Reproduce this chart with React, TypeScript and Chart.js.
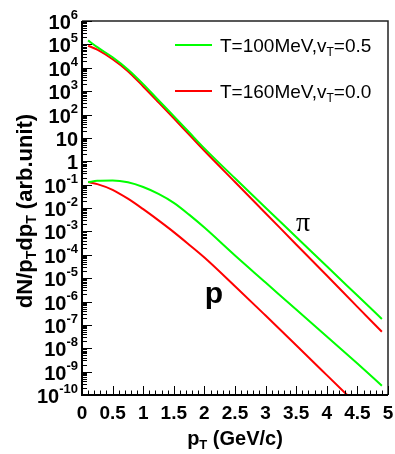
import React, { useEffect, useRef } from "react";
import { Chart, registerables } from "chart.js";

Chart.register(...registerables);

const pT = [0.1, 0.25, 0.5, 0.75, 1.0, 1.25, 1.5, 1.75, 2.0, 2.5, 3.0, 3.5, 4.0, 4.5, 4.9];

// pions
const pionT100 = [1.48e5, 7.6e4, 2.8e4, 8.5e3, 2.0e3, 407, 85, 17.4, 3.55, 0.186, 1.02e-2, 5.8e-4, 3.2e-5, 1.8e-6, 1.8e-7];
const pionT160 = [8.7e4, 5.9e4, 2.3e4, 7.1e3, 1.58e3, 331, 68, 13.8, 2.8, 0.129, 6.0e-3, 2.75e-4, 1.29e-5, 5.9e-7, 5.1e-8];

// protons
const protonT100 = [0.128, 0.145, 0.151, 0.126, 0.079, 0.040, 0.0166, 5.2e-3, 1.45e-3, 9.3e-5, 6.5e-6, 4.5e-7, 3.2e-8, 2.2e-9, 2.5e-10];
const protonT160 = [0.128, 0.105, 0.060, 0.025, 8.9e-3, 2.95e-3, 9.3e-4, 2.7e-4, 7.6e-5, 4.5e-6, 2.5e-7, 1.35e-8, 7.1e-10, 3.7e-11];

const xTickLabels = ["0", "0.5", "1", "1.5", "2", "2.5", "3", "3.5", "4", "4.5", "5"];
const yDecades = [-10, -9, -8, -7, -6, -5, -4, -3, -2, -1, 0, 1, 2, 3, 4, 5, 6];

const GREEN = "#00ff00";
const RED = "#ff0000";
const SANS = "'Liberation Sans', Arial, Helvetica, sans-serif";

const toPts = (ys: number[]) => ys.map((y, i) => ({ x: pT[i], y }));

const decorPlugin = {
  id: "decor",
  afterDraw(chart: any) {
    const ctx = chart.ctx as CanvasRenderingContext2D;
    const ca = chart.chartArea;
    const xs = chart.scales.x;
    const ys = chart.scales.y;
    ctx.save();

    // frame
    ctx.strokeStyle = "#222";
    ctx.lineWidth = 1.5;
    ctx.beginPath();
    ctx.moveTo(ca.left, ca.top);
    ctx.lineTo(ca.right, ca.top);
    ctx.lineTo(ca.right, ca.bottom);
    ctx.stroke();
    ctx.strokeStyle = "#000";
    ctx.lineWidth = 2;
    ctx.beginPath();
    ctx.moveTo(ca.left, ca.top);
    ctx.lineTo(ca.left, ca.bottom);
    ctx.lineTo(ca.right, ca.bottom);
    ctx.stroke();

    // y ticks (inward)
    ctx.lineWidth = 1;
    ctx.strokeStyle = "#000";
    ctx.beginPath();
    for (const n of yDecades) {
      const y = Math.round(ys.getPixelForValue(Math.pow(10, n))) + 0.5;
      ctx.moveTo(ca.left, y);
      ctx.lineTo(ca.left + 10, y);
      if (n < 6) {
        for (let k = 2; k <= 9; k++) {
          const yy = Math.round(ys.getPixelForValue(k * Math.pow(10, n))) + 0.5;
          ctx.moveTo(ca.left, yy);
          ctx.lineTo(ca.left + 5, yy);
        }
      }
    }
    // x ticks (inward)
    for (let i = 0; i <= 50; i++) {
      const v = i / 10;
      const x = Math.round(xs.getPixelForValue(v)) + 0.5;
      const len = i % 5 === 0 ? 9 : 4.5;
      ctx.moveTo(x, ca.bottom);
      ctx.lineTo(x, ca.bottom - len);
    }
    ctx.stroke();

    ctx.fillStyle = "#000";
    // x tick labels
    ctx.font = `bold 19px ${SANS}`;
    ctx.textAlign = "center";
    ctx.textBaseline = "alphabetic";
    xTickLabels.forEach((lab, i) => {
      ctx.fillText(lab, xs.getPixelForValue(i * 0.5), ca.bottom + 24);
    });

    // y tick labels
    const labRight = ca.left - 4;
    for (const n of yDecades) {
      const y = ys.getPixelForValue(Math.pow(10, n));
      ctx.textAlign = "left";
      if (n === 0 || n === 1) {
        ctx.font = `bold 20px ${SANS}`;
        const t = n === 0 ? "1" : "10";
        const w = ctx.measureText(t).width;
        ctx.fillText(t, labRight - w, y + 8);
      } else {
        ctx.font = `bold 13px ${SANS}`;
        const e = String(n);
        const ew = ctx.measureText(e).width;
        ctx.fillText(e, labRight - ew, y - 2);
        ctx.font = `bold 20px ${SANS}`;
        const bw = ctx.measureText("10").width;
        ctx.fillText("10", labRight - ew - bw, y + 8);
      }
    }

    // rich text helper: parts [text, isSub]
    const drawRich = (parts: [string, boolean][], x: number, y: number, big: number, small: number, weight: string, align: string) => {
      let total = 0;
      const widths = parts.map(([t, sub]) => {
        ctx.font = `${weight} ${sub ? small : big}px ${SANS}`;
        const w = ctx.measureText(t).width;
        total += w;
        return w;
      });
      let cx = align === "center" ? x - total / 2 : x;
      ctx.textAlign = "left";
      parts.forEach(([t, sub], i) => {
        ctx.font = `${weight} ${sub ? small : big}px ${SANS}`;
        ctx.fillText(t, cx, sub ? y + 4 : y);
        cx += widths[i];
      });
    };

    // x title
    drawRich([["p", false], ["T", true], [" (GeV/c)", false]], (ca.left + ca.right) / 2, 445, 20, 13, "bold", "center");

    // y title (rotated)
    ctx.save();
    ctx.translate(32, 211);
    ctx.rotate(-Math.PI / 2);
    drawRich([["dN/p", false], ["T", true], ["dp", false], ["T", true], [" (arb.unit)", false]], 0, 0, 22, 14, "bold", "center");
    ctx.restore();

    // legend
    const legend: [string, string, string][] = [
      [GREEN, "T=100MeV,v", "=0.5"],
      [RED, "T=160MeV,v", "=0.0"],
    ];
    legend.forEach(([col, a, b], i) => {
      const ly = 45 + i * 46;
      ctx.strokeStyle = col;
      ctx.lineWidth = 2;
      ctx.beginPath();
      ctx.moveTo(175, ly);
      ctx.lineTo(212, ly);
      ctx.stroke();
      ctx.fillStyle = "#000";
      drawRich([[a, false], ["T", true], [b, false]], 220, ly + 7, 19, 12, "normal", "left");
    });

    // particle labels
    ctx.fillStyle = "#000";
    ctx.textAlign = "center";
    ctx.font = `28px 'Liberation Serif', 'DejaVu Serif', serif`;
    ctx.fillText("π", 303, 231);
    ctx.font = `bold 30px ${SANS}`;
    ctx.fillText("p", 214, 303);

    ctx.restore();
  },
};

export default function App() {
  const ref = useRef<HTMLCanvasElement | null>(null);
  useEffect(() => {
    if (!ref.current) return;
    const ds = (data: number[], color: string) => ({
      data: toPts(data),
      borderColor: color,
      backgroundColor: color,
      borderWidth: 2,
      pointRadius: 0,
      fill: false,
      cubicInterpolationMode: "monotone" as const,
    });
    const chart = new Chart(ref.current, {
      type: "line",
      data: {
        datasets: [
          ds(pionT100, GREEN),
          ds(pionT160, RED),
          ds(protonT100, GREEN),
          ds(protonT160, RED),
        ],
      },
      options: {
        responsive: false,
        animation: false,
        layout: { padding: { top: 21, right: 7, left: 0, bottom: 0 } },
        plugins: { legend: { display: false }, tooltip: { enabled: false } },
        scales: {
          x: {
            type: "linear",
            min: 0,
            max: 5,
            ticks: { display: false },
            grid: { display: false },
            border: { display: false },
            afterFit: (s: any) => {
              s.height = 59;
            },
          },
          y: {
            type: "logarithmic",
            min: 1e-10,
            max: 1e6,
            ticks: { display: false },
            grid: { display: false },
            border: { display: false },
            afterFit: (s: any) => {
              s.width = 82;
            },
          },
        },
      },
      plugins: [decorPlugin],
    });
    return () => chart.destroy();
  }, []);
  return (
    <div style={{ position: "fixed", left: 0, top: 0, width: 395, height: 454, background: "#fff" }}>
      <canvas ref={ref} width={395} height={454} style={{ width: 395, height: 454, display: "block" }} />
    </div>
  );
}
